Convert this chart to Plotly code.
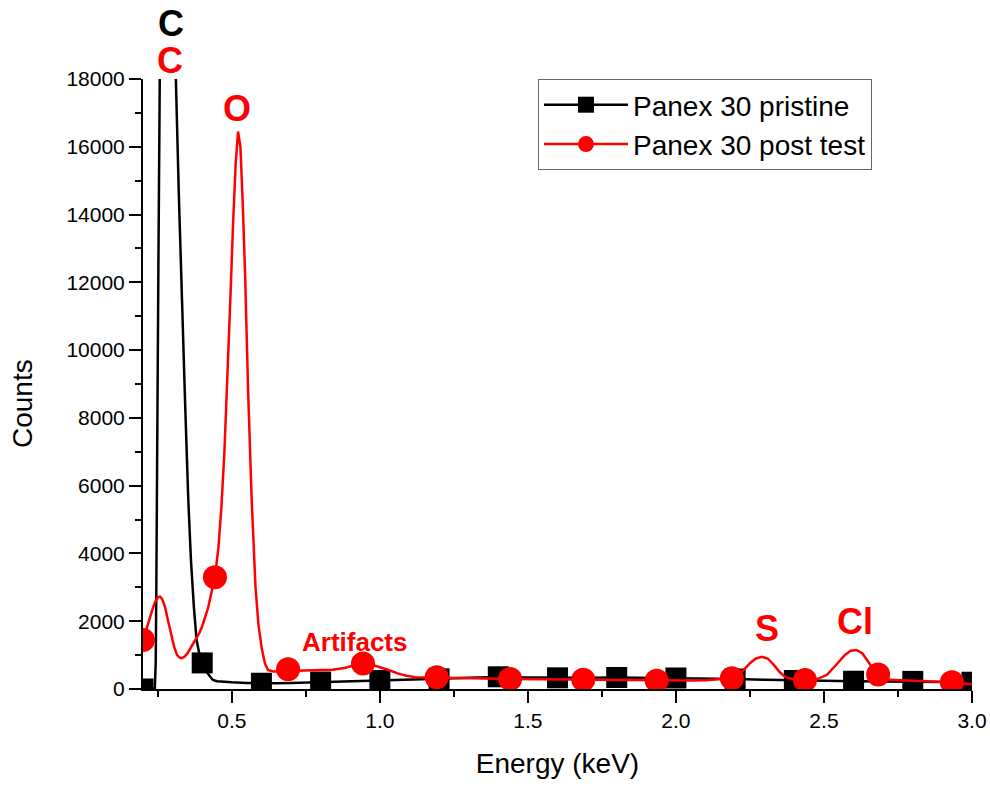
import plotly.graph_objects as go

# ---------------- data ----------------
pristine_energy = [0.20, 0.22, 0.24, 0.243, 0.245, 0.248, 0.252, 0.257, 0.265, 0.275, 0.285, 0.295,
                   0.305, 0.311, 0.321, 0.331, 0.342, 0.353, 0.362, 0.372, 0.381, 0.39, 0.40, 0.41,
                   0.42, 0.436, 0.45, 0.47, 0.50, 0.55, 0.60, 0.65, 0.70, 0.75, 0.80, 0.85, 0.90,
                   0.95, 1.00, 1.10, 1.20, 1.30, 1.40, 1.50, 1.60, 1.70, 1.80, 1.90, 2.00, 2.10,
                   2.20, 2.30, 2.40, 2.50, 2.60, 2.70, 2.80, 2.90, 3.00]
pristine_counts = [0, 0, 30, 800, 3000, 8000, 12500, 18500, 24000, 28500, 29500, 27000,
                   22000, 18000, 14600, 11475, 8500, 5575, 3800, 2400, 1445, 1050, 770, 560,
                   440, 265, 230, 210, 200, 180, 170, 170, 180, 190, 205, 215, 230,
                   240, 250, 280, 300, 330, 355, 340, 330, 335, 340, 330, 325, 310,
                   295, 270, 250, 240, 230, 225, 225, 210, 200]
pristine_marker_energy = [0.2, 0.4, 0.6, 0.8, 1.0, 1.2, 1.4, 1.6, 1.8, 2.0, 2.2, 2.4, 2.6, 2.8, 3.0]
pristine_marker_counts = [0, 770, 170, 205, 250, 300, 360, 330, 340, 325, 295, 250, 230, 225, 200]

post_energy = [0.20, 0.21, 0.22, 0.23, 0.24, 0.25, 0.257, 0.265, 0.275, 0.285, 0.295, 0.305,
               0.315, 0.325, 0.331, 0.34, 0.35, 0.36, 0.37, 0.38, 0.39, 0.40, 0.41, 0.42, 0.43,
               0.443, 0.455, 0.465, 0.475, 0.485, 0.495, 0.505, 0.513, 0.521, 0.529, 0.537,
               0.545, 0.555, 0.567, 0.58, 0.59, 0.601, 0.612, 0.622, 0.64, 0.66, 0.69, 0.72,
               0.76, 0.80, 0.84, 0.88, 0.91, 0.943, 0.97, 1.00, 1.03, 1.06, 1.09, 1.12, 1.16,
               1.192, 1.25, 1.30, 1.35, 1.40, 1.44, 1.50, 1.55, 1.60, 1.65, 1.687, 1.75, 1.80,
               1.85, 1.90, 1.935, 2.00, 2.05, 2.10, 2.15, 2.189, 2.22, 2.25, 2.27, 2.29, 2.31,
               2.33, 2.35, 2.37, 2.40, 2.436, 2.48, 2.51, 2.54, 2.57, 2.59, 2.61, 2.63, 2.65,
               2.67, 2.683, 2.70, 2.72, 2.76, 2.80, 2.85, 2.90, 2.932, 2.97, 3.00]
post_counts = [1445, 1700, 2000, 2300, 2550, 2700, 2730, 2650, 2400, 2000, 1600, 1250,
               1000, 920, 910, 950, 1050, 1200, 1350, 1500, 1650, 1850, 2100, 2400, 2800,
               3300, 4200, 5400, 7000, 9000, 11500, 13900, 15500, 16450, 16000, 14300,
               12200, 8800, 5600, 3000, 1900, 1200, 750, 560, 520, 520, 580, 540,
               540, 560, 570, 620, 690, 750, 720, 650, 560, 460, 390, 350, 340,
               345, 330, 320, 310, 300, 295, 290, 280, 280, 270, 270, 260, 260,
               250, 250, 245, 250, 250, 260, 280, 315, 480, 760, 900, 950, 900,
               720, 500, 350, 280, 262, 300, 420, 700, 1000, 1130, 1150, 1050, 800,
               550, 430, 330, 270, 260, 250, 240, 230, 200, 160, 140]
post_marker_energy = [0.2, 0.443, 0.69, 0.943, 1.192, 1.44, 1.687, 1.935, 2.189, 2.436, 2.683, 2.932]
post_marker_counts = [1445, 3300, 580, 750, 345, 295, 270, 245, 315, 262, 430, 200]

series_names = ["Panex 30 pristine", "Panex 30 post test"]
peak_labels = ["C", "C", "O", "Artifacts", "S", "Cl"]

BLACK = "#000000"
RED = "#ff0000"
FONT = "Liberation Sans, Arial, sans-serif"

# target plot area on screen (px)
PL, PR, PT, PB = 143, 972, 79, 689
W, H = 990, 787
pw, ph = PR - PL, PB - PT

fig = go.Figure()

fig.add_trace(go.Scatter(x=pristine_energy, y=pristine_counts, mode="lines",
                         line=dict(color=BLACK, width=2.5), showlegend=False, hoverinfo="skip"))
fig.add_trace(go.Scatter(x=pristine_marker_energy, y=pristine_marker_counts, mode="markers",
                         marker=dict(symbol="square", size=21, color=BLACK), showlegend=False))
fig.add_trace(go.Scatter(x=post_energy, y=post_counts, mode="lines",
                         line=dict(color=RED, width=2.5), showlegend=False, hoverinfo="skip"))
fig.add_trace(go.Scatter(x=post_marker_energy, y=post_marker_counts, mode="markers",
                         marker=dict(symbol="circle", size=24, color=RED), showlegend=False))

fig.add_trace(go.Scatter(x=[None], y=[None], mode="lines+markers", name=series_names[0],
                         line=dict(color=BLACK, width=2.5),
                         marker=dict(symbol="square", size=20, color=BLACK)))
fig.add_trace(go.Scatter(x=[None], y=[None], mode="lines+markers", name=series_names[1],
                         line=dict(color=RED, width=2.5),
                         marker=dict(symbol="circle", size=22, color=RED)))

# peak labels: (x in keV, y in screen px, colour, size)
label_pos = [
    (0.2936, 23, BLACK, 36),
    (0.292, 60, RED, 36),
    (0.5176, 108, RED, 36),
    (0.916, 641, RED, 26),
    (2.307, 628, RED, 36),
    (2.605, 621, RED, 36),
]
for txt, (xx, ypx, col, sz) in zip(peak_labels, label_pos):
    fig.add_annotation(x=xx, y=(PB - ypx) / ph, xref="x", yref="paper",
                       xanchor="center", yanchor="middle", text="<b>%s</b>" % txt,
                       height=int(sz * 0.9), valign="middle",
                       showarrow=False, font=dict(family=FONT, size=sz, color=col))

# y-axis title
fig.add_annotation(x=(22 - PL) / pw, y=(PB - 403) / ph, xref="paper", yref="paper",
                   xanchor="center", yanchor="middle",
                   text="Counts", showarrow=False, textangle=-90,
                   font=dict(family=FONT, size=28, color=BLACK))

axis_common = dict(showline=True, linewidth=2, linecolor=BLACK, showgrid=False, zeroline=False,
                   ticks="outside", ticklen=12, tickwidth=2, tickcolor=BLACK, automargin=False,
                   tickfont=dict(family=FONT, size=21, color=BLACK))

fig.update_layout(
    width=W, height=H,
    margin=dict(l=PL, r=W - PR, t=PT, b=H - PB),
    paper_bgcolor="white", plot_bgcolor="white",
    font=dict(family=FONT, color=BLACK),
    xaxis=dict(range=[0.2, 3.0], tick0=0, dtick=0.5, tickformat=".1f",
               minor=dict(dtick=0.25, ticks="outside", ticklen=6, tickwidth=2, tickcolor=BLACK),
               title=dict(text="Energy (keV)", font=dict(family=FONT, size=28, color=BLACK), standoff=22),
               **axis_common),
    yaxis=dict(range=[0, 18000], tick0=0, dtick=2000, tickformat="d",
               minor=dict(dtick=1000, ticks="outside", ticklen=6, tickwidth=2, tickcolor=BLACK),
               **axis_common),
    legend=dict(x=(538 - PL) / pw, y=1.0, xanchor="left", yanchor="top",
                bordercolor="#666666", borderwidth=1, bgcolor="white",
                font=dict(family=FONT, size=28, color=BLACK), itemwidth=84,
                tracegroupgap=0),
    showlegend=True,
)

fig.write_html("out.html", config={"displayModeBar": False},
               post_script="document.body.style.margin='0';")
